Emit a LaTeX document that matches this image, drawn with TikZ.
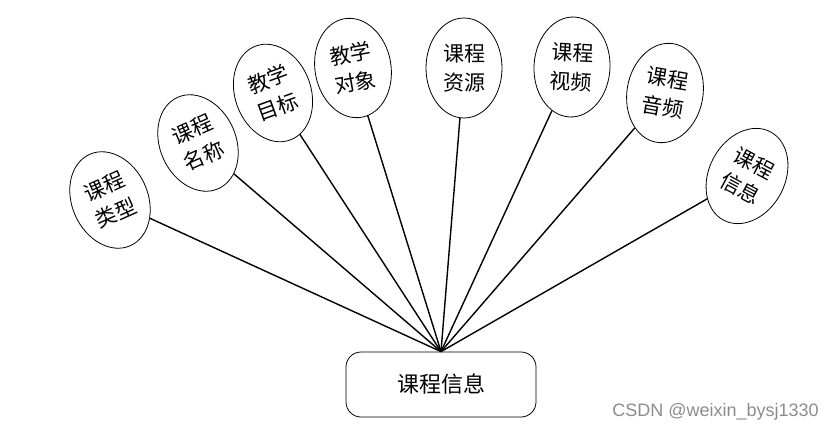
\documentclass[tikz,border=0pt]{standalone}
\usepackage{fontspec}
\newfontfamily\cjk{Noto Sans CJK SC}
\setsansfont{Liberation Sans}
\usetikzlibrary{shapes.geometric}
\begin{document}
\begin{tikzpicture}[x=1pt,y=-1pt,
  attr/.style={ellipse,draw,line width=0.8pt,minimum width=76pt,minimum height=100pt,inner sep=0pt,
    align=center,font=\cjk\fontsize{21}{29}\selectfont},
  entity/.style={draw,line width=0.8pt,rounded corners=15pt,minimum width=190pt,minimum height=65pt,
    font=\cjk\fontsize{22}{26}\selectfont},
  link/.style={line width=1.4pt}]
\useasboundingbox (0,0) rectangle (834,433);
\node[entity] (main) at (441,384.5) {课程信息};
\coordinate (hub) at (main.north);
\node[attr,rotate=24] (a1) at (110,200) {课程\\类型};
\node[attr,rotate=24] (a2) at (198,143) {课程\\名称};
\node[attr,rotate=20] (a3) at (273,93) {教学\\目标};
\node[attr,rotate=10] (a4) at (353,68) {教学\\对象};
\node[attr,rotate=0] (a5) at (464,68) {课程\\资源};
\node[attr,rotate=-3] (a6) at (572,67) {课程\\视频};
\node[attr,rotate=-10] (a7) at (665,93) {课程\\音频};
\node[attr,rotate=-28] (a8) at (747,176) {课程\\信息};
\foreach \n in {a1,a2,a3,a4,a5,a6,a7,a8}{\draw[link] (\n) -- (hub);}
\node[font=\sffamily\fontsize{18}{20}\selectfont,text=black!45,anchor=east,inner sep=0pt] (wm) at (819,412) {CSDN @weixin\_bysj1330};
\end{tikzpicture}
\end{document}
